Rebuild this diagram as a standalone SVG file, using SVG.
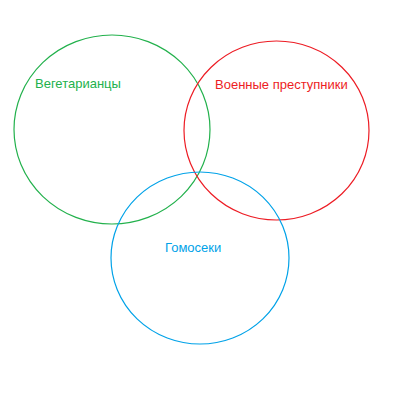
<svg xmlns="http://www.w3.org/2000/svg" width="400" height="400" viewBox="0 0 400 400">
<style>
.c{fill:none;stroke-width:1.2}
.t{font-family:"Liberation Sans",Arial,sans-serif;font-size:13px}
</style>
<rect width="400" height="400" fill="#ffffff"/>
<g id="vegetarians">
<ellipse class="c" cx="112" cy="129.5" rx="98" ry="94.5" stroke="#22b14c"/>
<text class="t" x="35" y="88" fill="#22b14c">Вегетарианцы</text>
</g>
<g id="war-criminals">
<ellipse class="c" cx="276.5" cy="130.5" rx="92.5" ry="89.5" stroke="#ed1c24"/>
<text class="t" x="215" y="89" fill="#ed1c24">Военные преступники</text>
</g>
<g id="homo">
<ellipse class="c" cx="200" cy="258" rx="89" ry="86" stroke="#00a2e8"/>
<text class="t" x="165" y="252" fill="#00a2e8">Гомосеки</text>
</g>
<g id="connectors"></g>
</svg>
